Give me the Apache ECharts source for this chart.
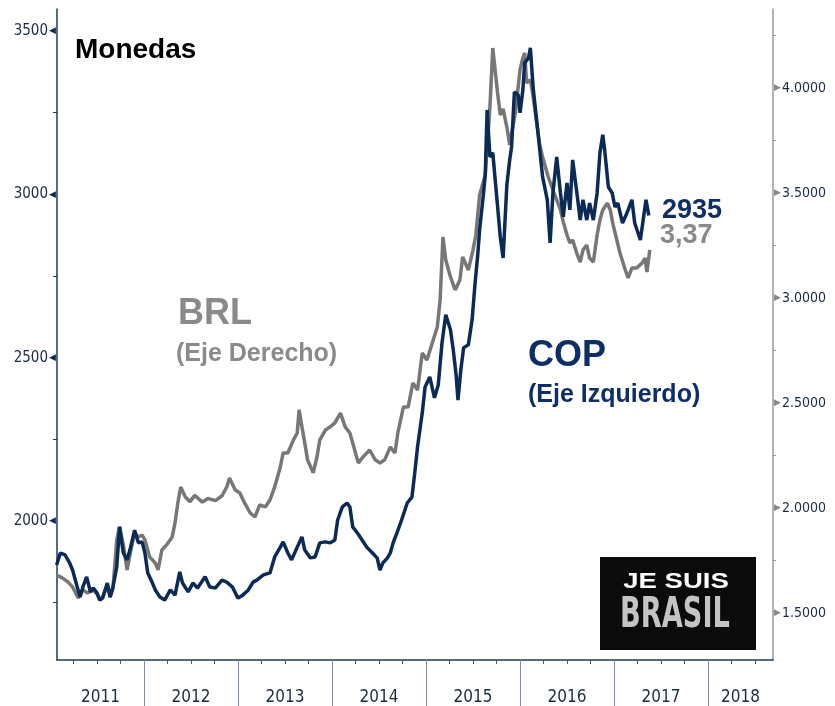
<!DOCTYPE html>
<html>
<head>
<meta charset="utf-8">
<style>
  html, body { margin: 0; padding: 0; background: #fff; }
  #chart { width: 835px; height: 706px; }
</style>
<script src="https://cdn.jsdelivr.net/npm/echarts@6/dist/echarts.min.js"></script>
</head>
<body>
<div id="chart"></div>
<script>
// fechas como fracción de año
const copDates = [
  2011.07, 2011.11, 2011.16, 2011.21, 2011.24, 2011.29, 2011.32, 2011.35, 2011.39, 2011.43,
  2011.46, 2011.50, 2011.53, 2011.56, 2011.61, 2011.64, 2011.67, 2011.71, 2011.74, 2011.78,
  2011.82, 2011.85, 2011.90, 2011.94, 2011.98, 2012.01, 2012.04, 2012.09, 2012.12, 2012.17,
  2012.22, 2012.28, 2012.33, 2012.38, 2012.41, 2012.47, 2012.52, 2012.57, 2012.65, 2012.70,
  2012.76, 2012.83, 2012.88, 2012.94, 2013.00, 2013.05, 2013.11, 2013.16, 2013.20, 2013.27,
  2013.34, 2013.39, 2013.45, 2013.48, 2013.53, 2013.57, 2013.63, 2013.68, 2013.71, 2013.77,
  2013.82, 2013.87, 2013.93, 2013.98, 2014.03, 2014.06, 2014.11, 2014.16, 2014.19, 2014.22,
  2014.27, 2014.32, 2014.37, 2014.43, 2014.48, 2014.51, 2014.54, 2014.59, 2014.62, 2014.65,
  2014.69, 2014.74, 2014.80, 2014.85, 2014.88, 2014.91, 2014.96, 2014.99, 2015.04, 2015.09,
  2015.13, 2015.17, 2015.21, 2015.26, 2015.29, 2015.32, 2015.34, 2015.37, 2015.40, 2015.45,
  2015.49, 2015.52, 2015.55, 2015.57, 2015.61, 2015.63, 2015.65, 2015.68, 2015.71, 2015.76,
  2015.79, 2015.82, 2015.86, 2015.89, 2015.91, 2015.94, 2015.98, 2016.00, 2016.03, 2016.05,
  2016.09, 2016.11, 2016.14, 2016.18, 2016.21, 2016.24, 2016.29, 2016.32, 2016.35, 2016.39,
  2016.43, 2016.46, 2016.50, 2016.53, 2016.56, 2016.61, 2016.64, 2016.67, 2016.71, 2016.74,
  2016.78, 2016.82, 2016.85, 2016.88, 2016.90, 2016.94, 2016.98, 2017.01, 2017.04, 2017.09,
  2017.12, 2017.15, 2017.19, 2017.22, 2017.28, 2017.31, 2017.34, 2017.37
]
const copValues = [
  1865, 1902, 1896, 1871, 1850, 1798, 1767, 1798, 1829, 1783,
  1795, 1780, 1758, 1764, 1810, 1767, 1798, 1859, 1982, 1902,
  1881, 1911, 1972, 1933, 1936, 1902, 1841, 1810, 1789, 1767,
  1758, 1789, 1773, 1844, 1810, 1783, 1810, 1795, 1829, 1798,
  1795, 1819, 1813, 1798, 1764, 1773, 1789, 1813, 1819, 1835,
  1841, 1890, 1920, 1936, 1902, 1881, 1920, 1951, 1911, 1887,
  1890, 1933, 1936, 1933, 1942, 2003, 2043, 2055, 2043, 1982,
  1963, 1942, 1920, 1902, 1887, 1850, 1871, 1887, 1902, 1933,
  1963, 2003, 2055, 2073, 2147, 2227, 2331, 2410, 2441, 2377,
  2416, 2545, 2631, 2585, 2523, 2447, 2370, 2462, 2530, 2539,
  2615, 2722, 2814, 2891, 2998, 3059, 3258, 3114, 3127, 2967,
  2869, 2805, 3029, 3105, 3145, 3313, 3304, 3249, 3319, 3402,
  3417, 3448, 3325, 3218, 3136, 3053, 2983, 2851, 3004, 3114,
  3004, 2931, 3035, 2952, 3105, 2992, 2921, 2983, 2921, 2973,
  2921, 3004, 3127, 3182, 3136, 3022, 3004, 2961, 2973, 2912,
  2931, 2952, 2983, 2912, 2860, 2921, 2983, 2935
]

const brlDates = [
  2011.07, 2011.13, 2011.19, 2011.24, 2011.30, 2011.35, 2011.40, 2011.46, 2011.50, 2011.53,
  2011.56, 2011.61, 2011.64, 2011.67, 2011.71, 2011.74, 2011.78, 2011.82, 2011.85, 2011.90,
  2011.94, 2011.98, 2012.01, 2012.06, 2012.12, 2012.15, 2012.19, 2012.24, 2012.30, 2012.33,
  2012.36, 2012.39, 2012.44, 2012.49, 2012.54, 2012.62, 2012.68, 2012.76, 2012.83, 2012.88,
  2012.91, 2012.97, 2013.02, 2013.07, 2013.13, 2013.18, 2013.23, 2013.29, 2013.34, 2013.39,
  2013.45, 2013.48, 2013.53, 2013.59, 2013.63, 2013.65, 2013.68, 2013.71, 2013.74, 2013.80,
  2013.84, 2013.87, 2013.93, 2013.98, 2014.03, 2014.09, 2014.14, 2014.19, 2014.22, 2014.28,
  2014.33, 2014.40, 2014.46, 2014.51, 2014.56, 2014.62, 2014.67, 2014.70, 2014.76, 2014.81,
  2014.86, 2014.91, 2014.96, 2015.01, 2015.06, 2015.12, 2015.15, 2015.18, 2015.21, 2015.26,
  2015.31, 2015.36, 2015.39, 2015.45, 2015.50, 2015.53, 2015.57, 2015.63, 2015.68, 2015.71,
  2015.76, 2015.79, 2015.82, 2015.86, 2015.89, 2015.95, 2016.00, 2016.03, 2016.05, 2016.07,
  2016.11, 2016.14, 2016.18, 2016.21, 2016.24, 2016.30, 2016.35, 2016.39, 2016.43, 2016.46,
  2016.50, 2016.53, 2016.56, 2016.61, 2016.64, 2016.67, 2016.71, 2016.74, 2016.78, 2016.82,
  2016.85, 2016.88, 2016.93, 2016.96, 2016.99, 2017.03, 2017.06, 2017.12, 2017.15, 2017.19,
  2017.24, 2017.30, 2017.33, 2017.35, 2017.38
]
const brlValues = [
  1.681, 1.667, 1.648, 1.624, 1.571, 1.610, 1.595, 1.610, 1.590, 1.562,
  1.576, 1.633, 1.576, 1.619, 1.848, 1.910, 1.824, 1.705, 1.776, 1.881,
  1.862, 1.871, 1.848, 1.767, 1.738, 1.705, 1.800, 1.824, 1.862, 1.929,
  2.024, 2.100, 2.052, 2.030, 2.060, 2.028, 2.045, 2.035, 2.058, 2.100,
  2.143, 2.086, 2.071, 2.024, 1.976, 1.957, 2.014, 2.005, 2.038, 2.100,
  2.195, 2.262, 2.262, 2.324, 2.357, 2.467, 2.386, 2.310, 2.229, 2.167,
  2.243, 2.324, 2.371, 2.386, 2.405, 2.452, 2.386, 2.357, 2.310, 2.214,
  2.243, 2.276, 2.229, 2.214, 2.229, 2.290, 2.262, 2.357, 2.481, 2.481,
  2.595, 2.562, 2.738, 2.705, 2.776, 2.862, 2.990, 3.290, 3.181, 3.100,
  3.038, 3.086, 3.195, 3.133, 3.229, 3.300, 3.490, 3.586, 3.910, 4.190,
  3.981, 3.871, 3.900, 3.814, 3.729, 3.881, 4.086, 4.143, 4.167, 4.024,
  4.038, 3.957, 3.824, 3.729, 3.671, 3.576, 3.514, 3.467, 3.419, 3.362,
  3.300, 3.262, 3.276, 3.205, 3.171, 3.229, 3.252, 3.190, 3.171, 3.300,
  3.371, 3.419, 3.452, 3.419, 3.348, 3.276, 3.219, 3.133, 3.095, 3.143,
  3.143, 3.167, 3.190, 3.124, 3.229
]

const years = [2011, 2012, 2013, 2014, 2015, 2016, 2017, 2018]
const copLabels = [2000, 2500, 3000, 3500]
const copMinorTicks = [1750, 2250, 2750, 3250]
const brlLabels = [1.5, 2.0, 2.5, 3.0, 3.5, 4.0]
const brlMinorTicks = [1.75, 2.25, 2.75, 3.25, 3.75, 4.25]

const X_MIN = 2011.0745
const X_MAX = 2018.691

const NAVY = '#0a2b57'
const GRAY = '#777777'
const AXIS_TEXT = '#1c2a44'
const NARROW = "'Liberation Sans Narrow', 'DejaVu Sans Condensed', sans-serif"
const SANS = "'Liberation Sans', Arial, sans-serif"

// marcas trimestrales y separadores de año
const yearBreaks = years.filter(y => y > X_MIN)
const quarterTicks = []
years.forEach(y => [0.25, 0.5, 0.75].forEach(q => {
  if (y + q > X_MIN && y + q < X_MAX) quarterTicks.push(y + q)
}))
// etiqueta de año centrada en la parte visible de cada año
const yearLabelPos = years.map(y => {
  const a = Math.max(y, X_MIN)
  const b = Math.min(y + 1, X_MAX)
  return (a + b) / 2
})

const chart = echarts.init(document.getElementById('chart'))

chart.setOption({
  animation: false,
  grid: { left: 57, right: 62, top: 9, bottom: 46, containLabel: false },
  xAxis: [
    {
      type: 'value',
      min: X_MIN,
      max: X_MAX,
      axisLine: { show: true, lineStyle: { color: '#1f3a5f', width: 1.5 } },
      axisTick: { show: true, customValues: quarterTicks, length: 4, lineStyle: { color: '#3d5575' } },
      axisLabel: {
        customValues: yearLabelPos,
        formatter: v => String(Math.floor(v + 0.0001)),
        margin: 29,
        fontSize: 17,
        fontFamily: NARROW,
        color: AXIS_TEXT
      },
      splitLine: { show: false }
    },
    {
      type: 'value',
      min: X_MIN,
      max: X_MAX,
      position: 'bottom',
      axisLine: { show: false },
      axisTick: { show: true, customValues: yearBreaks, length: 46, lineStyle: { color: '#7890ab', width: 1 } },
      axisLabel: { show: false },
      splitLine: { show: false }
    }
  ],
  yAxis: [
    {
      type: 'value',
      position: 'left',
      min: 1574.5,
      max: 3567,
      axisLine: { show: true, lineStyle: { color: '#1f3a5f', width: 1.5 } },
      axisTick: { show: true, customValues: copMinorTicks, length: 4, lineStyle: { color: '#1f3a5f' } },
      axisLabel: {
        customValues: copLabels,
        margin: 1,
        formatter: v => '{v|' + v + '}{t|◀}',
        rich: {
          v: { fontSize: 15, fontFamily: NARROW, color: AXIS_TEXT },
          t: { fontSize: 9, color: NAVY, padding: [0, 0, 0, 1] }
        }
      },
      splitLine: { show: false }
    },
    {
      type: 'value',
      position: 'right',
      min: 1.276,
      max: 4.376,
      axisLine: { show: true, lineStyle: { color: '#9a9a9a', width: 1.5 } },
      axisTick: { show: true, customValues: brlMinorTicks, length: 3, lineStyle: { color: '#9a9a9a' } },
      axisLabel: {
        customValues: brlLabels,
        margin: 1,
        formatter: v => '{t|▶}{v|' + v.toFixed(4) + '}',
        rich: {
          v: { fontSize: 14, fontFamily: NARROW, color: AXIS_TEXT },
          t: { fontSize: 9, color: '#888888', padding: [0, 1, 0, 0] }
        }
      },
      splitLine: { show: false }
    }
  ],
  series: [
    {
      name: 'BRL',
      type: 'line',
      xAxisIndex: 0,
      yAxisIndex: 1,
      symbol: 'none',
      lineStyle: { color: GRAY, width: 3.5 },
      data: brlDates.map((d, i) => [d, brlValues[i]])
    },
    {
      name: 'COP',
      type: 'line',
      xAxisIndex: 0,
      yAxisIndex: 0,
      symbol: 'none',
      lineStyle: { color: NAVY, width: 3.5 },
      data: copDates.map((d, i) => [d, copValues[i]])
    }
  ],
  graphic: [
    { type: 'text', left: 75, top: 36, style: { text: 'Monedas', font: 'bold 28px ' + SANS, fill: '#000' } },
    { type: 'text', left: 178, top: 296, style: { text: 'BRL', font: 'bold 36px ' + SANS, fill: '#8a8a8a' } },
    { type: 'text', left: 176, top: 342, style: { text: '(Eje Derecho)', font: 'bold 25px ' + SANS, fill: '#8a8a8a' } },
    { type: 'text', left: 528, top: 338, style: { text: 'COP', font: 'bold 36px ' + SANS, fill: '#0e2f66' } },
    { type: 'text', left: 528, top: 383, style: { text: '(Eje Izquierdo)', font: 'bold 25px ' + SANS, fill: '#0e2f66' } },
    { type: 'text', left: 662, top: 197, style: { text: '2935', font: 'bold 27px ' + SANS, fill: '#0e2f66' } },
    { type: 'text', left: 660, top: 222, style: { text: '3,37', font: 'bold 27px ' + SANS, fill: '#8a8a8a' } },
    {
      type: 'group',
      children: [
        { type: 'rect', shape: { x: 600, y: 557, width: 156, height: 93 }, style: { fill: '#0b0b0b' } },
        {
          type: 'text', x: 676, y: 582, scaleX: 1.25,
          style: { text: 'JE SUIS', x: 0, y: 0, textAlign: 'center', textVerticalAlign: 'middle', font: 'bold 22px ' + SANS, fill: '#ffffff' }
        },
        {
          type: 'text', x: 675, y: 616, scaleX: 0.72,
          style: { text: 'BRASIL', x: 0, y: 0, textAlign: 'center', textVerticalAlign: 'middle', font: 'bold 42px ' + NARROW, fill: '#c4c4c4' }
        }
      ]
    }
  ]
})
</script>
</body>
</html>
